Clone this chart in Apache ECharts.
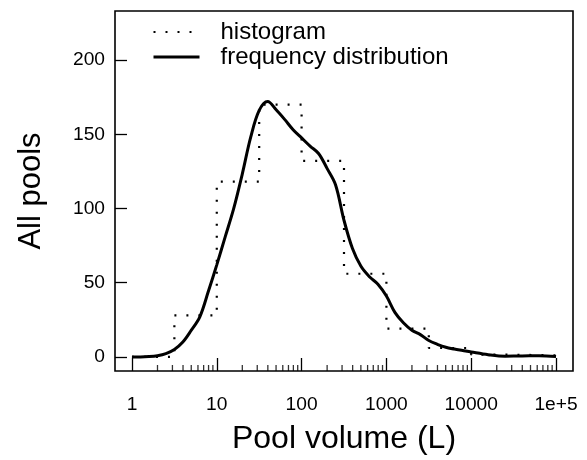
<!DOCTYPE html>
<html><head><meta charset="utf-8">
<script src="https://cdn.jsdelivr.net/npm/echarts@6/dist/echarts.min.js"></script>
<style>html,body{margin:0;padding:0;background:#fff}#c{width:587px;height:460px}</style>
</head><body><div id="c"></div>
<script>
// x is shown on a log10 scale: values below are log10(pool volume in L)
const xTickExponents = [0, 1, 2, 3, 4, 5];
const xTickLabels = ['1', '10', '100', '1000', '10000', '1e+5'];
const yTickValues = [0, 50, 100, 150, 200];
const seriesNames = ['histogram', 'frequency distribution'];

// histogram: half-decade bins (edges in log10 L) and their heights
const histBinEdges = [0, 0.5, 1, 1.5, 2, 2.5, 3, 3.5, 4, 4.5, 5];
const histCounts = [0, 28, 118, 170, 132, 56, 19, 6, 1.5, 1];

// smoothed frequency distribution
const densityLogVolume = [0, 0.1, 0.2, 0.3, 0.4, 0.5, 0.6, 0.7, 0.8, 0.9, 1.0, 1.1, 1.2, 1.3, 1.4, 1.5, 1.6, 1.7, 1.8, 1.9, 2.0, 2.1, 2.2, 2.3, 2.4, 2.5, 2.6, 2.7, 2.8, 2.9, 3.0, 3.1, 3.2, 3.3, 3.4, 3.5, 3.6, 3.7, 3.8, 3.9, 4.0, 4.2, 4.4, 4.6, 4.8, 5.0];
const densityValues = [0, 0, 0.2, 0.8, 2.2, 5, 10, 18, 27, 44, 62, 81, 100, 123, 148, 166, 172, 166.5, 160, 153, 147.5, 142, 137, 127, 116, 92, 73, 61, 54, 49, 41, 30, 23, 18, 15, 11, 8.5, 6.5, 5.3, 4.3, 3.3, 1.5, 0.5, 0.6, 0.8, 0.2];

const X_MIN = -0.2, X_MAX = 5.2, Y_MIN = -9.5, Y_MAX = 233;
const FONT = "'Liberation Sans', Arial, Helvetica, sans-serif";

// step outline of the histogram
const histLine = [];
for (let i = 0; i < histCounts.length; i++) {
  histLine.push([histBinEdges[i], histCounts[i]]);
  histLine.push([histBinEdges[i + 1], histCounts[i]]);
}
const densityLine = densityLogVolume.map((x, i) => [x, densityValues[i]]);

// minor log ticks (2..9 in each decade)
const minorTicks = [];
for (let k = 0; k < xTickExponents.length - 1; k++) {
  for (let d = 2; d <= 9; d++) minorTicks.push([xTickExponents[k] + Math.log10(d), Y_MIN]);
}

const chart = echarts.init(document.getElementById('c'), null, {renderer: 'canvas'});
chart.setOption({
  animation: false,
  backgroundColor: '#ffffff',
  textStyle: {fontFamily: FONT},
  grid: {left: 115, right: 14, top: 11, bottom: 88.5, show: true, borderColor: '#000', borderWidth: 1.6, backgroundColor: 'transparent'},
  legend: {
    data: seriesNames, orient: 'vertical', left: 152, top: 20, padding: 0,
    itemWidth: 46, itemHeight: 14, itemGap: 1,
    itemStyle: {opacity: 0},
    lineStyle: {width: 'inherit'},
    textStyle: {fontSize: 24, color: '#000', fontFamily: FONT, padding: [0, 0, 0, 16], lineHeight: 24},
    selectedMode: false
  },
  xAxis: {
    type: 'value', min: X_MIN, max: X_MAX, minInterval: 1, maxInterval: 1,
    name: 'Pool volume (L)', nameLocation: 'middle', nameGap: 52,
    nameTextStyle: {fontSize: 32, color: '#000', fontFamily: FONT},
    axisLine: {show: false, onZero: false},
    axisTick: {show: true, inside: true, length: 13, lineStyle: {color: '#000', width: 1.3}},
    splitLine: {show: false},
    axisLabel: {
      show: true, margin: 24, fontSize: 19.2, color: '#000', fontFamily: FONT,
      showMinLabel: false, showMaxLabel: false,
      formatter: v => { const i = xTickExponents.indexOf(Math.round(v * 1000) / 1000); return i >= 0 ? xTickLabels[i] : ''; }
    }
  },
  yAxis: {
    type: 'value', min: Y_MIN, max: Y_MAX, minInterval: 50, maxInterval: 50,
    name: 'All pools', nameLocation: 'middle', nameGap: 68, nameRotate: 90,
    nameTextStyle: {fontSize: 31, color: '#000', fontFamily: FONT},
    axisLine: {show: false, onZero: false},
    axisTick: {show: true, inside: true, length: 12, lineStyle: {color: '#000', width: 1.3}},
    splitLine: {show: false},
    axisLabel: {
      show: true, margin: 10, fontSize: 19.2, color: '#000', fontFamily: FONT,
      showMinLabel: false, showMaxLabel: false,
      formatter: v => (yTickValues.indexOf(v) >= 0 ? String(v) : '')
    }
  },
  series: [
    {
      name: seriesNames[0], type: 'line', data: histLine, symbol: 'none',
      lineStyle: {color: '#000', width: 2.2, type: [2, 10], cap: 'butt'},
      itemStyle: {color: '#000'}, z: 3
    },
    {
      name: seriesNames[1], type: 'line', data: densityLine, symbol: 'none', smooth: 0.35,
      lineStyle: {color: '#000', width: 3}, itemStyle: {color: '#000'}, z: 4
    },
    {
      name: 'minor ticks', type: 'scatter', data: minorTicks, symbol: 'rect',
      symbolSize: [1.3, 6], symbolOffset: [0, -3], itemStyle: {color: '#000'},
      silent: true, z: 2
    }
  ]
});
</script></body></html>
